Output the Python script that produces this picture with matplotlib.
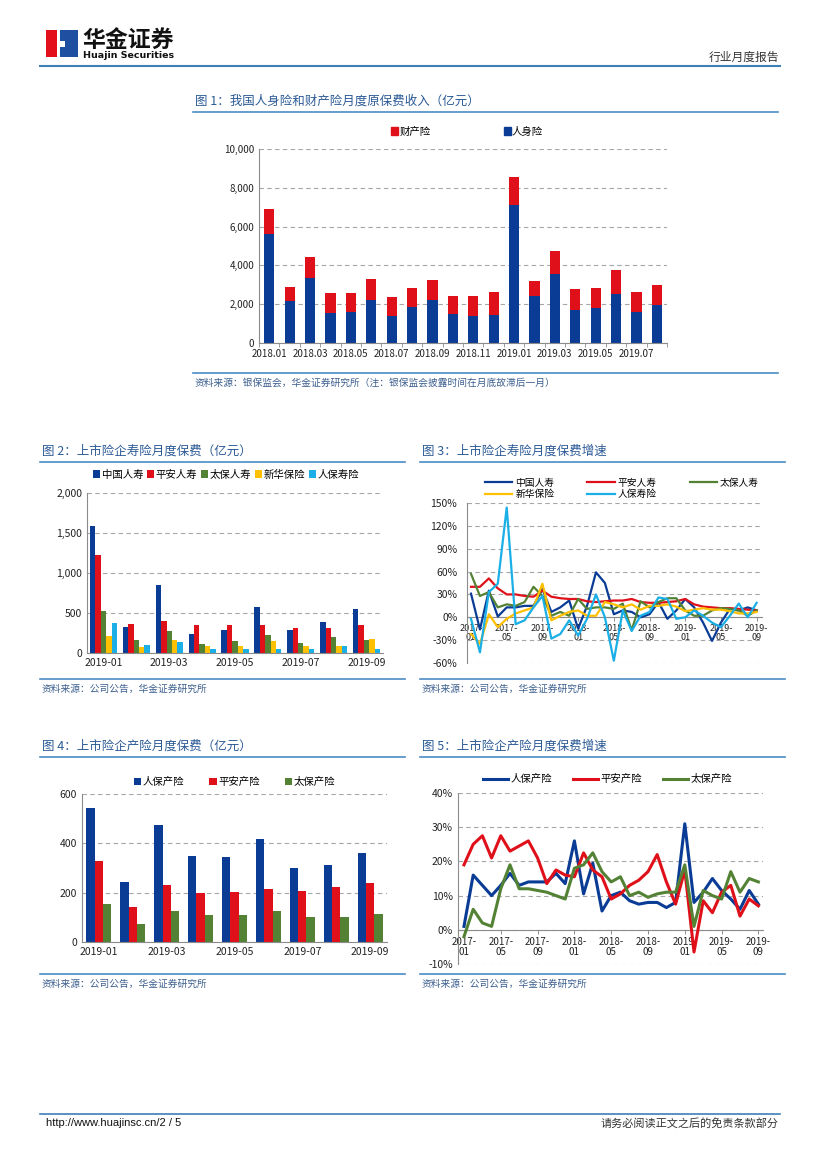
import numpy as np
import matplotlib
matplotlib.use('Agg')
from matplotlib import pyplot as plt
from matplotlib.patches import Rectangle, Patch
from matplotlib.lines import Line2D
from matplotlib.ticker import FuncFormatter

plt.rcParams['font.family'] = ['Noto Sans CJK SC', 'DejaVu Sans']
plt.rcParams['axes.unicode_minus'] = False

W, H = 827, 1169

# ---- 数据 ----
# 图1：人身险、财产险月度原保费（亿元），合计与人身险读数
months1 = ['2018.01', '2018.02', '2018.03', '2018.04', '2018.05', '2018.06', '2018.07',
           '2018.08', '2018.09', '2018.10', '2018.11', '2018.12', '2019.01', '2019.02',
           '2019.03', '2019.04', '2019.05', '2019.06', '2019.07', '2019.08']
total1 = [6924, 2887, 4450, 2560, 2577, 3316, 2354, 2818, 3265, 2405,
          2440, 2646, 8557, 3196, 4742, 2784, 2835, 3746, 2612, 3007]
life1 = [5636, 2148, 3350, 1546, 1598, 2234, 1392, 1856, 2234, 1478,
         1392, 1443, 7096, 2423, 3574, 1718, 1787, 2526, 1598, 1942]
prop1 = [t - l for t, l in zip(total1, life1)]

# 图2：上市险企寿险月度保费（亿元）
months2 = ['2019-01', '2019-02', '2019-03', '2019-04', '2019-05', '2019-06', '2019-07', '2019-08', '2019-09']
names2 = ['中国人寿', '平安人寿', '太保人寿', '新华保险', '人保寿险']
chinalife = [1590, 330, 850, 240, 285, 580, 285, 390, 550]
pingan_life = [1220, 360, 400, 355, 355, 345, 315, 310, 345]
cpic_life = [520, 160, 270, 110, 145, 225, 125, 205, 165]
nci_life = [210, 75, 165, 90, 85, 150, 90, 90, 175]
picc_life = [375, 100, 140, 50, 50, 55, 45, 85, 55]

# 图3：寿险月度保费增速（%），2017-01 至 2019-09
g_chinalife = [31, -16, 35, 1, 13, 13, 15, 15, 37, 7, 13, 22, -15, 15, 59, 45, 4, 9, 7, 0,
               4, 20, -2, 9, 24, 13, -7, -31, -7, 11, 9, 13, 9]
g_pingan = [40, 40, 51, 38, 30, 30, 28, 27, 35, 27, 25, 24, 24, 21, 20, 21, 22, 22, 24, 20,
            19, 19, 20, 21, 24, 17, 14, 13, 12, 12, 11, 10, 9]
g_cpic = [57, 28, 33, 13, 17, 15, 20, 40, 28, 2, 7, 2, 24, 11, 13, 13, 11, 18, -17, 21,
          13, 20, 25, 25, 9, 2, 2, 9, 12, 11, 9, 2, 9]
g_nci = [-22, -35, 4, -13, -2, 5, 9, 13, 44, -4, 2, 7, 9, 2, 2, 20, 17, 13, 17, 10,
         15, 15, 17, 14, 8, 10, 12, 10, 10, 8, 5, 5, 7]
g_picc = [-2, -46, 33, 44, 144, -9, -4, 13, 28, -28, -22, -4, -24, -2, 30, 0, -57, 9, -18, 2,
          7, 26, 24, -2, 0, 9, 2, -7, -13, 2, 18, 0, 19]

# 图4：上市险企产险月度保费（亿元）
names4 = ['人保产险', '平安产险', '太保产险']
picc_pc = [545, 245, 473, 350, 343, 418, 302, 313, 360]
pingan_pc = [328, 140, 230, 200, 202, 215, 207, 222, 240]
cpic_pc = [155, 75, 126, 108, 108, 126, 100, 103, 114]

# 图5：产险月度保费增速（%）
g_picc_pc = [1, 16, 13, 10, 13, 16.5, 13, 14, 14, 14, 16.5, 13.5, 26, 10.5, 19.5, 5.5, 10, 11,
             8.5, 7.5, 8, 8, 6.5, 8, 31, 8, 11, 15, 11.5, 9, 6, 11.5, 7.5]
g_pingan_pc = [19, 25, 27.5, 21, 27.5, 23, 24.5, 26, 21, 13.5, 17.5, 16, 15.5, 22.5, 17.5, 15.5,
               9, 10.5, 13, 14.5, 17, 22, 14, 7.5, 17.5, -6.5, 8.5, 5, 11, 13, 4, 9, 7]
g_cpic_pc = [-2, 6, 2, 1, 12, 19, 12, 12, 11.5, 11, 10, 9, 18, 19, 22.5, 17, 14, 15.5, 10, 11,
             9.5, 10.5, 11, 11, 19, 1, 11.5, 10, 9, 17, 11, 15, 14]

growth_ticks = ['2017-\n01', '2017-\n05', '2017-\n09', '2018-\n01', '2018-\n05',
                '2018-\n09', '2019-\n01', '2019-\n05', '2019-\n09']

# ---- 颜色 ----
c_blue = '#0A3C96'
c_red = '#E0101A'
c_green = '#548235'
c_yellow = '#FFC000'
c_sky = '#1AAFE6'
c_title = '#2B5A96'
c_rule = '#4A8CC2'
c_src = '#3C5F8E'
c_grid = '#A6A6A6'

fig = plt.figure(figsize=(W / 100, H / 100), dpi=100)


def px_axes(x0, y0, x1, y1):
    return fig.add_axes([x0 / W, 1 - y1 / H, (x1 - x0) / W, (y1 - y0) / H])


def ftext(x, y, s, **kw):
    fig.text(x / W, 1 - y / H, s, **kw)


def hline(x0, x1, y, color=c_rule, lw=1.2):
    fig.add_artist(Line2D([x0 / W, x1 / W], [1 - y / H, 1 - y / H], color=color, lw=lw))


def style_axes(ax):
    for s in ['top', 'right']:
        ax.spines[s].set_visible(False)
    for s in ['left', 'bottom']:
        ax.spines[s].set_color('#8C8C8C')
        ax.spines[s].set_linewidth(0.8)
    ax.yaxis.grid(True, linestyle=(0, (4, 3)), color=c_grid, lw=0.8)
    ax.set_axisbelow(True)
    ax.tick_params(axis='both', colors='#8C8C8C', labelcolor='#222222', length=3, width=0.7)


def fig_title(x0, x1, y, s):
    ftext(x0 + 2, y - 4, s, fontsize=9, color=c_title, va='bottom', ha='left')
    hline(x0, x1, y)


def source(x0, x1, y):
    hline(x0, x1, y)
    ftext(x0 + 2, y + 10, '资料来源：公司公告，华金证券研究所', fontsize=7, color=c_src,
          style='italic', va='center', ha='left')


# ---- 页眉 ----
fig.add_artist(Rectangle((46 / W, 1 - 57 / H), 11 / W, 27 / H, color='#E3101B', lw=0))
fig.add_artist(Rectangle((60 / W, 1 - 57 / H), 18 / W, 27 / H, color='#1F4FA0', lw=0))
fig.add_artist(Rectangle((57 / W, 1 - 47 / H), 8 / W, 6 / H, color='white', lw=0))
ftext(82, 41, '华金证券', fontsize=16.5, fontweight='bold', color='#111111', va='center', ha='left')
ftext(83, 56, 'Huajin Securities', fontsize=6.8, fontweight='bold', color='#111111',
      va='center', ha='left', family=['Liberation Sans Narrow', 'DejaVu Sans'])
ftext(779, 57, '行业月度报告', fontsize=8.5, color='#333333', va='center', ha='right')
hline(40, 780, 66, color='#3F7FB5', lw=1.5)

# ---- 图1 ----
fig_title(193, 778, 112, '图 1：我国人身险和财产险月度原保费收入（亿元）')
ax1 = px_axes(259, 149, 667, 343)
x1 = np.arange(len(months1))
ax1.bar(x1, life1, width=0.5, color=c_blue, zorder=2)
ax1.bar(x1, prop1, width=0.5, bottom=life1, color=c_red, zorder=2)
style_axes(ax1)
ax1.set_xlim(-0.5, len(months1) - 0.5)
ax1.set_ylim(0, 10000)
ax1.set_yticks(np.arange(0, 10001, 2000))
ax1.yaxis.set_major_formatter(FuncFormatter(lambda v, p: f'{int(v):,}'))
ax1.set_xticks(x1[::2])
ax1.set_xticklabels(months1[::2])
ax1.set_xticks(np.arange(-0.5, len(months1), 1), minor=True)
ax1.tick_params(axis='x', which='major', length=0, pad=4)
ax1.tick_params(axis='x', which='minor', length=3, color='#8C8C8C')
ax1.tick_params(axis='y', length=0)
ax1.tick_params(labelsize=7)
ax1.legend([Patch(color=c_red), Patch(color=c_blue)], ['财产险', '人身险'], ncol=2,
           loc='center', bbox_to_anchor=(0.51, 1.09), frameon=False, fontsize=7.5,
           handlelength=0.7, handleheight=0.7, handletextpad=0.1, columnspacing=7)
hline(193, 778, 373)
ftext(195, 383, '资料来源：银保监会，华金证券研究所（注：银保监会披露时间在月底故滞后一月）',
      fontsize=7, color=c_src, style='italic', va='center', ha='left')

# ---- 图2 ----
fig_title(40, 405, 462, '图 2：上市险企寿险月度保费（亿元）')
ax2 = px_axes(87, 493, 383, 653)
x2 = np.arange(len(months2))
series2 = [chinalife, pingan_life, cpic_life, nci_life, picc_life]
colors2 = [c_blue, c_red, c_green, c_yellow, c_sky]
bw2 = 0.165
for k, (vals, col) in enumerate(zip(series2, colors2)):
    ax2.bar(x2 + (k - 2) * bw2, vals, width=bw2, color=col, label=names2[k], zorder=2)
style_axes(ax2)
ax2.set_xlim(-0.5, len(months2) - 0.5)
ax2.set_ylim(0, 2000)
ax2.set_yticks(np.arange(0, 2001, 500))
ax2.yaxis.set_major_formatter(FuncFormatter(lambda v, p: f'{int(v):,}'))
ax2.set_xticks(x2[::2])
ax2.set_xticklabels(months2[::2])
ax2.tick_params(axis='both', length=0, labelsize=7.5)
ax2.legend(loc='center', bbox_to_anchor=(0.47, 1.115), ncol=5, frameon=False, fontsize=7.5,
           handlelength=0.7, handleheight=0.7, handletextpad=0.15, columnspacing=0.35)
source(40, 405, 679)


def growth_axes(ax, ylo, yhi, step, n, xsize=7, ypad=3.5):
    style_axes(ax)
    ax.spines['bottom'].set_position(('data', 0))
    ax.set_ylim(ylo, yhi)
    ax.set_yticks(np.arange(ylo, yhi + 0.1, step))
    ax.yaxis.set_major_formatter(FuncFormatter(lambda v, p: f'{int(round(v))}%'))
    ax.set_xticks(np.arange(0, n, 4))
    ax.set_xticklabels(growth_ticks)
    ax.tick_params(axis='y', length=0, labelsize=7.5, pad=ypad)
    ax.tick_params(axis='x', length=3, labelsize=xsize, pad=2)
    for lab in ax.get_xticklabels():
        lab.set_linespacing(1.0)


# ---- 图3 ----
fig_title(420, 785, 462, '图 3：上市险企寿险月度保费增速')
ax3 = px_axes(467, 503, 762, 663)
n3 = len(g_chinalife)
t3 = np.arange(n3)
lines3 = [g_chinalife, g_pingan, g_cpic, g_nci, g_picc]
for vals, col, nm in zip(lines3, colors2, names2):
    ax3.plot(t3, vals, color=col, lw=1.6, label=nm, zorder=3)
ax3.set_xlim(-0.45, n3 - 0.4)
growth_axes(ax3, -60, 150, 30, n3, xsize=6.5, ypad=7)
h3, l3 = ax3.get_legend_handles_labels()
order = [0, 3, 1, 4, 2]
ax3.legend([h3[i] for i in order], [l3[i] for i in order], ncol=3, loc='center',
           bbox_to_anchor=(0.525, 1.09), frameon=False, fontsize=7, handlelength=2.8,
           handletextpad=0.3, columnspacing=3.4, labelspacing=0.15)
source(420, 785, 679)

# ---- 图4 ----
fig_title(40, 405, 757, '图 4：上市险企产险月度保费（亿元）')
ax4 = px_axes(82, 794, 387, 942)
x4 = np.arange(len(months2))
series4 = [picc_pc, pingan_pc, cpic_pc]
colors4 = [c_blue, c_red, c_green]
bw4 = 0.245
for k, (vals, col) in enumerate(zip(series4, colors4)):
    ax4.bar(x4 + (k - 1) * bw4, vals, width=bw4, color=col, label=names4[k], zorder=2)
style_axes(ax4)
ax4.set_xlim(-0.5, len(months2) - 0.5)
ax4.set_ylim(0, 600)
ax4.set_yticks(np.arange(0, 601, 200))
ax4.set_xticks(x4[::2])
ax4.set_xticklabels(months2[::2])
ax4.tick_params(axis='both', length=0, labelsize=7.5)
ax4.legend(loc='center', bbox_to_anchor=(0.5, 1.08), ncol=3, frameon=False, fontsize=7.5,
           handlelength=0.7, handleheight=0.7, handletextpad=0.15, columnspacing=2.4)
source(40, 405, 974)

# ---- 图5 ----
fig_title(420, 785, 757, '图 5：上市险企产险月度保费增速')
ax5 = px_axes(458, 793, 763, 964)
n5 = len(g_picc_pc)
t5 = np.arange(n5)
for vals, col, nm in zip([g_picc_pc, g_pingan_pc, g_cpic_pc], colors4, names4):
    ax5.plot(t5, vals, color=col, lw=2.2, label=nm, zorder=3)
ax5.set_xlim(-0.65, n5 - 0.5)
growth_axes(ax5, -10, 40, 10, n5)
ax5.legend(ncol=3, loc='center', bbox_to_anchor=(0.49, 1.08), frameon=False, fontsize=7.5,
           handlelength=2.4, handletextpad=0.25, columnspacing=2.0)
source(420, 785, 974)

# ---- 页脚 ----
hline(40, 780, 1114, color='#3F7FB5', lw=1.2)
ftext(46, 1123, 'http://www.huajinsc.cn/2 / 5', fontsize=8, color='#111111', va='center', ha='left',
      family=['Liberation Sans', 'DejaVu Sans'])
ftext(779, 1123, '请务必阅读正文之后的免责条款部分', fontsize=8, color='#333333', va='center', ha='right')

fig.savefig('out.png', dpi=100)
